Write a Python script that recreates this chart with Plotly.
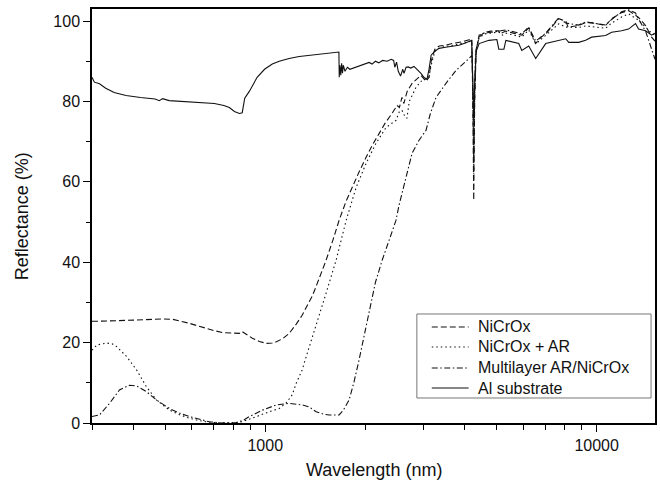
import math
import plotly.graph_objects as go

# ---- data ----
wl_nicrox = [300, 310, 340, 400, 450, 490, 525, 560, 590, 630, 664, 700, 742, 800, 835, 850, 870, 914, 960,
             1007, 1050, 1080, 1130, 1181, 1240, 1292, 1340, 1385, 1424, 1470, 1526, 1600, 1670, 1750, 1828,
             1920, 2015, 2100, 2205, 2300, 2412, 2500, 2540, 2585, 2620, 2680, 2773, 2850, 2950, 3055, 3120,
             3166, 3250, 3350, 3500, 3700, 3900, 4100, 4200, 4230, 4257, 4285, 4330, 4420, 4580, 4800, 5067,
             5100, 5321, 5600, 5944, 6238, 6548, 6800, 7018, 7400, 7684, 8066, 8200, 8826, 9262, 9660, 10643,
             11099, 11893, 12479, 13100, 13380, 14050, 14650, 15000]
r_nicrox = [25.3, 25.3, 25.4, 25.6, 25.8, 25.9, 25.8, 25.3, 24.8, 24.1, 23.5, 23.0, 22.5, 22.3, 22.3, 22.8, 22.2,
            21.1, 20.3, 19.8, 19.9, 20.2, 21.0, 22.3, 24.6, 26.8, 29.3, 31.5, 34.0, 37.0, 40.5, 45.5, 50.4, 55.0,
            58.6, 62.5, 66.1, 69.0, 72.0, 74.6, 77.0, 79.0, 78.5, 81.0, 79.5, 82.5, 84.5, 85.5, 86.5, 85.0, 86.0,
            90.0, 93.0, 93.8, 94.0, 94.5, 94.8, 95.3, 95.5, 80.0, 55.4, 80.0, 93.0, 96.0, 97.2, 97.5, 97.6,
            96.8, 97.5, 97.0, 96.5, 98.3, 94.4, 96.0, 96.8, 99.0, 100.6, 100.0, 98.5, 98.9, 99.6, 99.6, 98.9,
            100.6, 102.1, 102.6, 101.5, 100.9, 98.9, 96.0, 95.0]

wl_ar = [300, 310, 332, 345, 356, 382, 409, 438, 470, 514, 550, 590, 630, 678, 730, 779, 820, 852, 895, 940,
         1028, 1102, 1157, 1206, 1240, 1292, 1329, 1370, 1424, 1526, 1636, 1754, 1880, 2015, 2159, 2314, 2480,
         2540, 2585, 2630, 2676, 2720, 2850, 2950, 3116, 3166, 3250, 3400, 3700, 4000, 4200, 4230, 4257, 4285,
         4330, 4420, 4580, 4800, 5067, 5200, 5321, 5944, 6238, 6548, 7018, 7684, 8066, 8826, 9262, 10643,
         11099, 11893, 12479, 13380, 14050, 14650, 15000]
r_ar = [18.1, 19.4, 19.9, 19.7, 19.0, 16.5, 13.2, 9.0, 5.7, 3.2, 2.1, 1.2, 0.6, 0.2, 0.0, 0.0, 0.1, 0.3, 0.9, 1.6,
        2.8, 3.6, 5.0, 7.0, 9.9, 13.2, 16.5, 20.0, 23.9, 32.3, 40.5, 50.4, 58.6, 64.6, 69.6, 73.5, 75.3,
        77.5, 77.8, 76.5, 75.8, 80.0, 83.5, 85.0, 86.0, 89.0, 92.5, 93.5, 94.0, 94.5, 95.0, 82.0, 62.0, 82.0,
        93.0, 95.8, 96.8, 97.0, 97.3, 96.5, 97.0, 96.0, 97.8, 94.3, 96.5, 99.3, 98.5, 98.4, 98.8, 98.2,
        99.5, 101.0, 101.8, 100.2, 98.5, 97.0, 96.5]

wl_multi = [300, 316, 339, 363, 389, 409, 438, 470, 514, 550, 590, 630, 678, 742, 818, 860, 895, 980, 1080,
            1181, 1292, 1357, 1424, 1500, 1559, 1670, 1720, 1790, 1850, 1919, 1990, 2058, 2150, 2253, 2360,
            2480, 2530, 2585, 2680, 2773, 2908, 3055, 3150, 3275, 3510, 3760, 4120, 4210, 4235, 4257, 4280,
            4310, 4420, 4580, 4800, 5067, 5321, 5944, 6238, 6548, 7018, 7684, 8066, 8826, 9262, 10643, 11099,
            11893, 12479, 13100, 13380, 14050, 14650, 15000]
r_multi = [1.6, 2.0, 4.9, 8.2, 9.4, 9.2, 7.8, 5.7, 3.6, 2.5, 1.6, 0.9, 0.3, 0.0, 0.1, 0.7, 1.6, 3.2, 4.5,
           4.9, 4.5, 4.0, 2.8, 2.2, 2.0, 2.0, 3.2, 5.7, 10.0, 15.7, 22.0, 28.1, 35.0, 40.5, 45.5,
           50.4, 54.0, 57.1, 62.5, 67.1, 70.3, 72.8, 77.0, 81.0, 84.5, 87.7, 90.7, 91.5, 80.0, 66.0, 80.0,
           92.0, 96.5, 97.0, 97.2, 97.6, 97.8, 96.8, 98.5, 95.0, 97.0, 100.8, 99.5, 99.0, 99.8, 99.0, 100.4,
           102.3, 102.8, 102.0, 100.5, 97.5, 93.0, 90.5]

wl_al = [300, 305, 316, 330, 350, 380, 420, 447, 465, 479, 490, 513, 560, 633, 702, 750, 779, 807, 835, 852,
         860, 867, 895, 945, 995, 1050, 1102, 1180, 1266, 1454, 1668, 1672, 1680, 1690, 1700, 1710, 1720, 1740,
         1770, 1800, 1855, 1900, 1950, 2000, 2058, 2100, 2150, 2200, 2260, 2330, 2400, 2440, 2460, 2490, 2520,
         2560, 2600, 2622, 2660, 2700, 2750, 2810, 2870, 2950, 3010, 3075, 3120, 3166, 3250, 3344, 3500, 3839,
         4000, 4195, 4230, 4257, 4285, 4330, 4420, 4730, 5000, 5067, 5250, 5321, 5820, 5944, 6238, 6548, 7018,
         7684, 8066, 8238, 8826, 9262, 9660, 10643, 11099, 11893, 12479, 13100, 13380, 14050, 14650, 15000]
r_al = [86.0, 84.8, 84.4, 83.3, 82.2, 81.5, 81.0, 80.8, 80.6, 80.2, 80.7, 80.2, 80.0, 79.9, 79.5, 79.0, 78.5,
        77.5, 77.0, 77.2, 79.5, 80.8, 82.5, 86.0, 88.0, 89.3, 90.0, 90.7, 91.2, 91.8, 92.3, 86.0, 89.0, 86.5,
        89.5, 87.0, 89.0, 87.5, 88.5, 88.0, 88.4, 88.8, 89.1, 89.4, 89.7, 89.3, 90.0, 89.6, 90.2, 90.0, 90.5,
        90.2, 88.5, 89.8, 87.5, 86.3, 88.0, 87.0, 88.5, 88.6, 88.3, 88.7, 88.0, 87.0, 86.0, 85.5, 88.0, 91.5,
        92.5, 93.2, 93.5, 94.0, 94.5, 95.2, 85.0, 75.0, 85.0, 92.5, 94.4, 95.2, 95.4, 93.0, 93.0, 95.2, 94.4,
        92.7, 93.8, 90.7, 94.4, 95.2, 95.6, 94.7, 94.7, 95.2, 96.0, 96.4, 97.2, 97.6, 98.0, 99.4, 98.0, 97.6,
        96.5, 97.0]

series_names = ["NiCrOx", "NiCrOx + AR", "Multilayer AR/NiCrOx", "Al substrate"]
x_major_ticks = [1000, 10000]
x_minor_ticks = [300, 400, 500, 600, 700, 800, 900, 2000, 3000, 4000, 5000, 6000, 7000, 8000, 9000]
y_major_ticks = [0, 20, 40, 60, 80, 100]
y_minor_ticks = [10, 30, 50, 70, 90]

FONT = "Arial, 'Liberation Sans', sans-serif"
INK = "#111111"
styles = ["6px,3px", "1.5px,3px", "6px,2.5px,1.5px,2.5px", "solid"]
datasets = [(wl_nicrox, r_nicrox), (wl_ar, r_ar), (wl_multi, r_multi), (wl_al, r_al)]

fig = go.Figure()
for (xs, ys), name, dash in zip(datasets, series_names, styles):
    fig.add_trace(go.Scatter(x=xs, y=ys, mode="lines", name=name, showlegend=False,
                             line=dict(color=INK, width=1.1, dash=dash)))

axis_common = dict(showline=True, linecolor="black", linewidth=1.5, mirror=True, showgrid=False,
                   zeroline=False, ticks="outside", ticklen=7, tickwidth=1.2, tickcolor="black",
                   tickfont=dict(family=FONT, size=16, color=INK))

# ---- legend drawn in paper coordinates (box, line samples, labels) ----
shapes = [dict(type="rect", xref="paper", yref="paper", x0=0.577, x1=0.993, y0=0.0604, y1=0.2633,
               line=dict(color="#777777", width=1), fillcolor="white", layer="above")]
annotations = []
row_y = [0.2319, 0.1836, 0.1329, 0.0845]
for name, dash, yy in zip(series_names, styles, row_y):
    shapes.append(dict(type="line", xref="paper", yref="paper", x0=0.6035, x1=0.669, y0=yy, y1=yy,
                       line=dict(color=INK, width=1.1, dash=dash), layer="above"))
    annotations.append(dict(text=name, xref="paper", yref="paper", x=0.6814, y=yy, xanchor="left",
                            yanchor="middle", showarrow=False, font=dict(family=FONT, size=16, color=INK)))

annotations += [
    dict(text="Wavelength (nm)", xref="paper", yref="paper", x=0.5, y=-0.1135,
         xanchor="center", yanchor="middle", showarrow=False,
         font=dict(family=FONT, size=18, color=INK)),
    dict(text="Reflectance (%)", xref="paper", yref="paper", x=-0.124, y=0.5,
         xanchor="center", yanchor="middle", textangle=-90, showarrow=False,
         font=dict(family=FONT, size=18, color=INK)),
]

fig.update_layout(
    width=660, height=483,
    margin=dict(l=92, r=3, t=9, b=60),
    paper_bgcolor="white", plot_bgcolor="white",
    font=dict(family=FONT, color=INK),
    xaxis=dict(type="log", range=[math.log10(300), math.log10(15000)], tickmode="array",
               tickvals=x_major_ticks, ticktext=[str(v) for v in x_major_ticks],
               minor=dict(ticks="outside", ticklen=5, tickwidth=1.2, tickcolor="black",
                          tickmode="array", tickvals=x_minor_ticks),
               **axis_common),
    yaxis=dict(range=[0, 103], tickmode="array", tickvals=y_major_ticks,
               minor=dict(ticks="outside", ticklen=4, tickwidth=1.2, tickcolor="black",
                          tickmode="array", tickvals=y_minor_ticks),
               **axis_common),
    showlegend=False,
    shapes=shapes,
    annotations=annotations,
)

fig.write_html("out.html", config={"displayModeBar": False},
               post_script="document.body.style.margin='0';document.body.style.overflow='hidden';")
